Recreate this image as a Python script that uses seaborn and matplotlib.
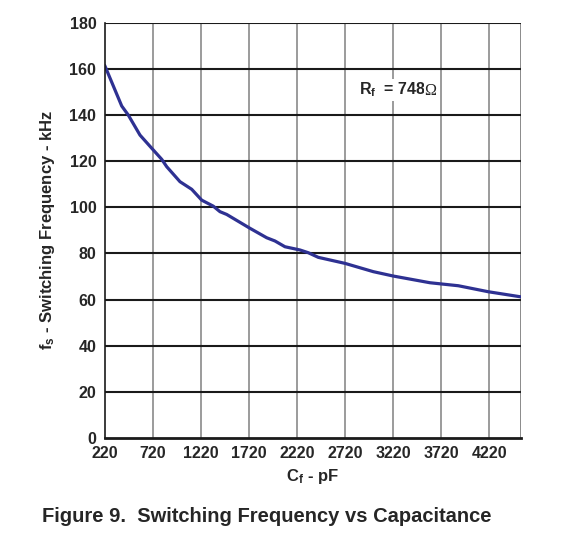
import numpy as np
import pandas as pd
import seaborn as sns
import matplotlib.pyplot as plt
from matplotlib.transforms import offset_copy

# values (Rf = 748 ohm)
cap_pf = [220, 397, 465, 587, 709, 813, 865, 1003, 1125, 1229, 1349, 1419, 1489,
          1731, 1905, 1991, 2095, 2251, 2338, 2442, 2719, 3014, 3222, 3603, 3898,
          4210, 4546]
freq_khz = [161.5, 143.9, 140.0, 131.3, 125.6, 120.8, 117.6, 111.1, 107.8, 103.1,
            100.5, 98.1, 96.9, 90.9, 86.8, 85.4, 82.9, 81.5, 80.3, 78.3, 75.7,
            72.1, 70.2, 67.3, 66.0, 63.4, 61.2]
x_ticks = [220, 720, 1220, 1720, 2220, 2720, 3220, 3720, 4220]
y_ticks = [0, 20, 40, 60, 80, 100, 120, 140, 160, 180]

df = pd.DataFrame({'Cf': cap_pf, 'fs': freq_khz})

sns.set_style('white')
plt.rcParams['font.family'] = ['Liberation Sans', 'DejaVu Sans']
plt.rcParams['mathtext.fontset'] = 'custom'
plt.rcParams['mathtext.bf'] = 'Liberation Sans:bold'
plt.rcParams['mathtext.rm'] = 'Liberation Sans'

fig = plt.figure(figsize=(5.74, 5.50), dpi=100)
ax = fig.add_axes([0.1824, 0.2036, 0.7246, 0.7551])

sns.lineplot(data=df, x='Cf', y='fs', color='#2e3192', linewidth=2.3, ax=ax)

ax.set_xlim(220, 4546)
ax.set_ylim(0, 180)
ax.set_xticks(x_ticks)
ax.set_yticks(y_ticks)
ax.set_xticklabels([str(v) for v in x_ticks], fontweight='bold', fontsize=11.5)
ax.set_yticklabels([str(v) for v in y_ticks], fontweight='bold', fontsize=11.5)
ax.tick_params(axis='x', length=0, pad=6)
ax.tick_params(axis='y', length=0, pad=6)

for v in x_ticks[1:]:
    ax.axvline(v, color='#8a8a8a', lw=1.2, zorder=0)
ax.axvline(4546, color='#8a8a8a', lw=1.4, zorder=0)
for v in y_ticks[1:]:
    ax.axhline(v, color='#1a1a1a', lw=1.5, zorder=0)

for s in ['top', 'right']:
    ax.spines[s].set_visible(False)
ax.spines['left'].set_color('#1a1a1a')
ax.spines['left'].set_linewidth(1.2)
ax.spines['bottom'].set_color('#1a1a1a')
ax.spines['bottom'].set_linewidth(2.0)

ax.set_xlabel(r'$\mathbf{C_f}$ - pF', fontweight='bold', fontsize=12, labelpad=4)
ax.set_ylabel(r'$\mathbf{f_s}$ - Switching Frequency - kHz', fontweight='bold',
              fontsize=12, labelpad=9)

# annotation: bold "Rf = 748" followed by a plain Omega
rf_x, rf_y = 2860, 148.8
rf = ax.text(rf_x, rf_y, r'$\mathbf{R_f}$  = 748', fontweight='bold', fontsize=11.5,
             va='baseline', ha='left',
             bbox=dict(facecolor='white', edgecolor='none', pad=1.5))
fig.canvas.draw()
bb = rf.get_window_extent()
ox, oy = ax.transData.transform((rf_x, rf_y))
ax.text(rf_x, rf_y, 'Ω', fontsize=11.5, va='baseline', ha='left',
        family=['Liberation Serif', 'DejaVu Serif'], zorder=5,
        transform=offset_copy(ax.transData, fig=fig,
                              x=(bb.x1 - ox) * 72 / fig.dpi - 1.0,
                              y=0, units='points'),
        bbox=dict(facecolor='white', edgecolor='none', pad=0.2))

fig.text(0.464, 0.06, 'Figure 9.  Switching Frequency vs Capacitance',
         fontweight='bold', fontsize=14.5, ha='center', va='center')

fig.savefig('out.png', dpi=100)
